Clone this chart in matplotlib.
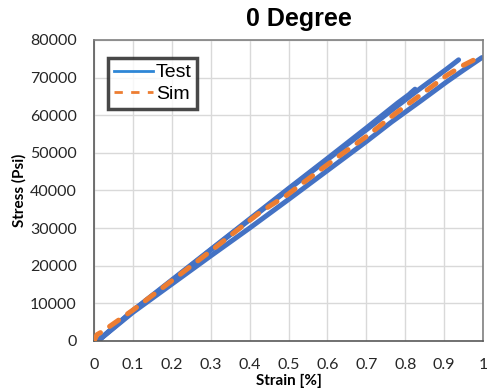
import numpy as np
import matplotlib.pyplot as plt
from matplotlib.lines import Line2D

# Test curves (strain %, stress psi)
test1_strain = [0.01, 0.1, 0.2, 0.3, 0.4, 0.5, 0.6, 0.7, 0.765, 0.84, 0.907, 0.937]
test1_stress = [0, 8000, 16000, 24200, 32200, 40300, 48200, 56100, 61300, 67200, 72300, 74700]

test2_strain = [0.01, 0.1, 0.2, 0.3, 0.4, 0.5, 0.6, 0.7, 0.78, 0.81, 0.815, 0.825]
test2_stress = [0, 8100, 16200, 24300, 32400, 40500, 48500, 56600, 63200, 65500, 66000, 66900]

test3_strain = [0.01, 0.1, 0.2, 0.3, 0.4, 0.5, 0.6, 0.7, 0.765, 0.84, 0.907, 0.95, 0.997]
test3_stress = [0, 7600, 15100, 22600, 30000, 37600, 45300, 53000, 58200, 63800, 68900, 72000, 75300]

sim_strain = [0.0, 0.008, 0.02, 0.1, 0.2, 0.3, 0.427, 0.495, 0.568, 0.628, 0.705, 0.774, 0.85, 0.907, 0.95, 0.975, 0.995]
sim_stress = [0, 1700, 2400, 8200, 16000, 23900, 34200, 38700, 44400, 49000, 54700, 60400, 66200, 70600, 73300, 74600, 75200]

blue = '#4472C4'
orange = '#ED7D31'

plt.rcParams['font.family'] = ['Lato', 'DejaVu Sans']

fig = plt.figure(figsize=(4.87, 3.91), dpi=100)
ax = fig.add_axes([0.193, 0.128, 0.799, 0.77])

for xs, ys in [(test3_strain, test3_stress), (test2_strain, test2_stress), (test1_strain, test1_stress)]:
    ax.plot(xs, ys, color=blue, lw=3.6, solid_capstyle='round', zorder=2)
ax.plot(sim_strain, sim_stress, color=orange, lw=3.6, ls=(0, (2.2, 2.2)), dash_capstyle='round', zorder=3)

ax.set_xlim(0, 1)
ax.set_ylim(0, 80000)
ax.set_xticks(np.arange(0, 1.01, 0.1))
ax.set_xticklabels(['0', '0.1', '0.2', '0.3', '0.4', '0.5', '0.6', '0.7', '0.8', '0.9', '1'])
ax.set_yticks(np.arange(0, 80001, 10000))
ax.tick_params(length=0, labelsize=11.5, colors='#262626')
ax.tick_params(axis='x', pad=12.5)
ax.tick_params(axis='y', pad=12.5)
ax.grid(True, color='#D9D9D9', lw=1)
ax.set_axisbelow(True)
for s in ['top', 'right']:
    ax.spines[s].set_color('#808080')
    ax.spines[s].set_linewidth(1.2)
for s in ['left', 'bottom']:
    ax.spines[s].set_color('#595959')
    ax.spines[s].set_linewidth(1.2)

ax.set_xlabel('Strain [%]', fontsize=11, fontweight='bold', labelpad=1)
ax.set_ylabel('Stress (Psi)', fontsize=11, fontweight='bold', labelpad=2)

fig.text(0.614, 0.951, '0 Degree', fontsize=18, fontweight='bold',
         family='Liberation Sans', ha='center', va='center')

handles = [Line2D([], [], color='#2E86D6', lw=2),
           Line2D([], [], color=orange, lw=2, ls=(0, (3, 3)))]
leg = ax.legend(handles, ['Test', 'Sim'], loc='upper left', bbox_to_anchor=(0.036, 0.94),
                prop={'family': 'Liberation Sans', 'size': 14}, frameon=True, fancybox=False,
                handlelength=2.0, handletextpad=0.15, borderpad=0.3, labelspacing=0.2,
                borderaxespad=0)
leg.get_frame().set_edgecolor('#1a1a1a')
leg.get_frame().set_linewidth(2.5)

fig.savefig('out.png', dpi=100)
